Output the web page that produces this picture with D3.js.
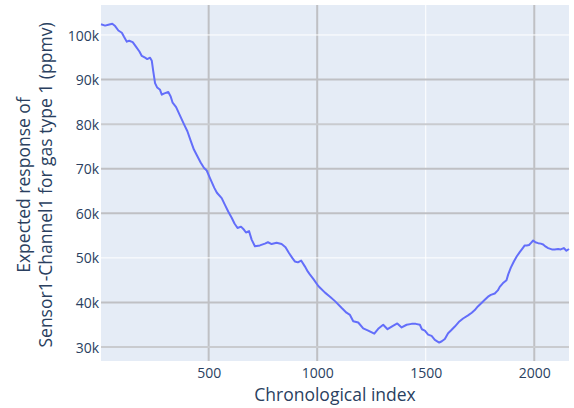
<!DOCTYPE html>
<html>
<head>
<meta charset="utf-8">
<script src="https://cdn.jsdelivr.net/npm/d3@7"></script>
<style>
  body { margin: 0; background: #fff; }
  svg { display: block; font-family: "Open Sans", sans-serif; }
</style>
</head>
<body>
<div id="chart"></div>
<script>
// chronological index
const indexValues = [4, 23, 38, 56, 69, 84, 100, 110, 123, 134, 150, 165, 181, 192, 207, 217, 230, 238, 245, 253,
    263, 276, 284, 296, 314, 325, 334, 350, 368, 386, 402, 417, 432, 448, 463, 478, 491, 506, 526, 538,
    560, 575, 590, 606, 619, 633, 649, 663, 672, 686, 698, 713, 736, 759, 773, 790, 813, 836, 854, 870,
    885, 897, 911, 926, 943, 957, 966, 982, 1005, 1036, 1059, 1082, 1112, 1135, 1151, 1166, 1189, 1212, 1235, 1263,
    1281, 1291, 1304, 1324, 1347, 1369, 1389, 1412, 1435, 1454, 1473, 1482, 1496, 1511, 1527, 1542, 1562, 1574, 1588, 1603,
    1616, 1634, 1652, 1672, 1695, 1712, 1726, 1740, 1757, 1772, 1787, 1800, 1818, 1832, 1841, 1855, 1872, 1880, 1892, 1906,
    1919, 1933, 1947, 1956, 1965, 1976, 1984, 1995, 2005, 2018, 2030, 2041, 2053, 2064, 2081, 2094, 2110, 2122, 2136, 2148, 2160];

// expected response (ppmv)
const responseValues = [102400, 102100, 102300, 102500, 102000, 101000, 100500, 99600, 98500, 98700, 98400, 97400, 96300, 95300, 94900, 94600, 94900, 94200, 91800, 89200,
    88200, 87700, 86600, 86900, 87200, 86200, 84800, 83800, 81900, 80000, 78400, 76300, 74300, 72800, 71400, 70200, 69600, 67900, 65700, 64600,
    63400, 61900, 60400, 59000, 57700, 56700, 57000, 56300, 55700, 56000, 54100, 52600, 52800, 53200, 53500, 53100, 53400, 53100, 52400, 51100,
    50000, 49200, 49000, 49400, 48100, 46900, 46300, 45300, 43700, 42200, 41300, 40300, 38800, 37700, 37200, 35800, 35500, 34200, 33700, 33000,
    34100, 34500, 35000, 34000, 34700, 35300, 34400, 35000, 35200, 35200, 35000, 34000, 33700, 32800, 32500, 31600, 31000, 31300, 31800, 33100,
    33700, 34600, 35600, 36400, 37100, 37700, 38300, 39100, 39900, 40600, 41300, 41700, 42000, 42700, 43500, 44300, 45000, 46300, 47800, 49200,
    50300, 51300, 52200, 52800, 52800, 52900, 53300, 53900, 53500, 53300, 53200, 53000, 52500, 52200, 51900, 51900, 52000, 51900, 52200, 51600, 52000];

const xTicks = [500, 1000, 1500, 2000];
const yTicks = [30000, 40000, 50000, 60000, 70000, 80000, 90000, 100000];
const xTitle = "Chronological index";
const yTitleLines = ["Expected response of", "Sensor1-Channel1 for gas type 1 (ppmv)"];

const W = 574, H = 408;
const margin = {top: 5, right: 5, bottom: 47, left: 101};
const width = W - margin.left - margin.right,
    height = H - margin.top - margin.bottom;

const data = indexValues.map((v, i) => ({x: v, y: responseValues[i]}));

const svg = d3.select("#chart").append("svg")
    .attr("width", W)
    .attr("height", H);

const g = svg.append("g")
    .attr("transform", "translate(" + margin.left + "," + margin.top + ")");

const x = d3.scaleLinear().domain([4, 2160]).range([0, width]);
const y = d3.scaleLinear().domain([26870, 106720]).range([height, 0]);

g.append("rect")
    .attr("width", width)
    .attr("height", height)
    .attr("fill", "#e5ecf6");

// grid lines (some render white, most grey in the reference)
const whiteX = new Set([1500]);
const whiteY = new Set([50000, 100000]);

g.append("g").selectAll("line")
    .data(xTicks)
    .enter().append("line")
    .attr("x1", d => x(d)).attr("x2", d => x(d))
    .attr("y1", 0).attr("y2", height)
    .attr("stroke", d => whiteX.has(d) ? "#ffffff" : "#bfc0c4")
    .attr("stroke-width", d => whiteX.has(d) ? 1 : 2);

g.append("g").selectAll("line")
    .data(yTicks)
    .enter().append("line")
    .attr("x1", 0).attr("x2", width)
    .attr("y1", d => y(d)).attr("y2", d => y(d))
    .attr("stroke", d => whiteY.has(d) ? "#ffffff" : (d === 80000 || d === 30000 ? "#c9cbcf" : "#bfc0c4"))
    .attr("stroke-width", d => whiteY.has(d) ? 1 : 2);

// axes
const xAxis = g.append("g")
    .attr("transform", "translate(0," + height + ")")
    .call(d3.axisBottom(x).tickValues(xTicks).tickSize(0).tickPadding(7).tickFormat(d3.format("d")));
const yAxis = g.append("g")
    .call(d3.axisLeft(y).tickValues(yTicks).tickSize(0).tickPadding(2).tickFormat(d => (d / 1000) + "k"));

[xAxis, yAxis].forEach(a => {
    a.select(".domain").remove();
    a.selectAll("text")
        .attr("fill", "#2a3f5f")
        .style("font-family", "Open Sans")
        .style("font-size", "14px");
});
yAxis.selectAll("text").attr("dy", "0.36em");

// line
const line = d3.line()
    .x(d => x(d.x))
    .y(d => y(d.y));

g.append("path")
    .datum(data)
    .attr("fill", "none")
    .attr("stroke", "#636efa")
    .attr("stroke-width", 2)
    .attr("stroke-linejoin", "round")
    .attr("d", line);

// axis titles
svg.append("text")
    .attr("x", margin.left + width / 2)
    .attr("y", 401)
    .attr("text-anchor", "middle")
    .attr("fill", "#2a3f5f")
    .style("font-size", "17.5px")
    .text(xTitle);

const yt = svg.append("text")
    .attr("transform", "translate(0," + (margin.top + height / 2 + 2) + ") rotate(-90)")
    .attr("text-anchor", "middle")
    .attr("fill", "#2a3f5f")
    .style("font-size", "17.5px");
yTitleLines.forEach((t, i) => {
    yt.append("tspan")
        .attr("x", 0)
        .attr("y", 30 + i * 22)
        .text(t);
});
</script>
</body>
</html>
